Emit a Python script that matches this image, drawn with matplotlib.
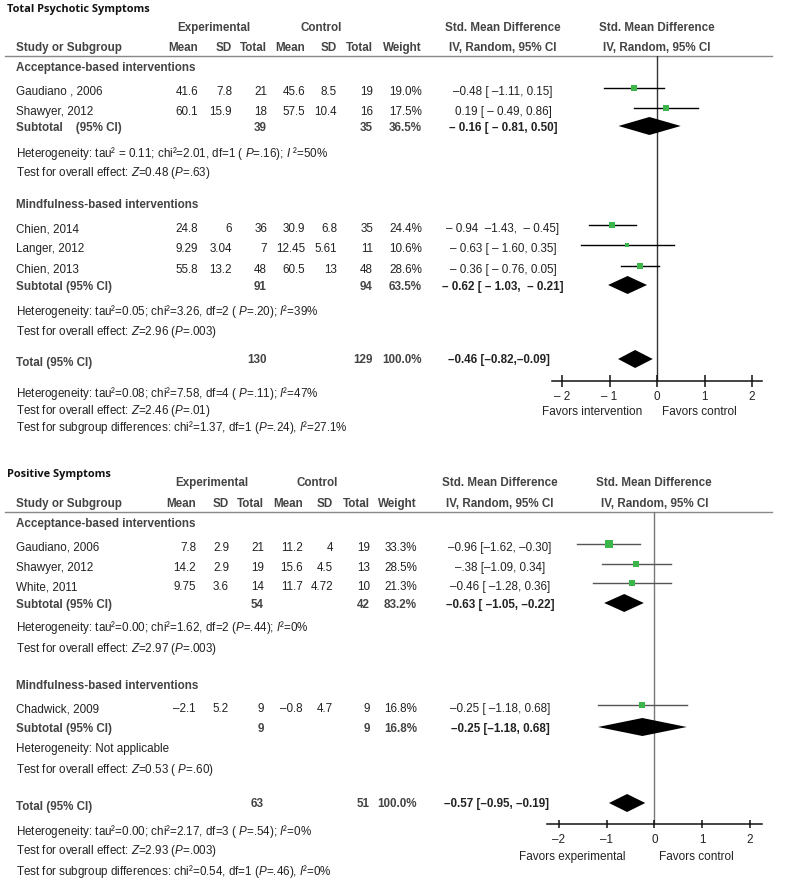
import matplotlib
matplotlib.use("Agg")
import matplotlib.pyplot as plt
from matplotlib.patches import Polygon

plt.rcParams['font.family'] = ['Liberation Sans', 'DejaVu Sans']
plt.rcParams['mathtext.fontset'] = 'custom'
plt.rcParams['mathtext.rm'] = 'Liberation Sans'
plt.rcParams['mathtext.it'] = 'Liberation Sans:italic'

W, H = 786, 881

# ---------------- data: Total Psychotic Symptoms ----------------
tot_groups = ["Acceptance-based interventions", "Mindfulness-based interventions"]
tot_studies = [["Gaudiano , 2006", "Shawyer, 2012"],
               ["Chien, 2014", "Langer, 2012", "Chien, 2013"]]
tot_exp_mean = [["41.6", "60.1"], ["24.8", "9.29", "55.8"]]
tot_exp_sd = [["7.8", "15.9"], ["6", "3.04", "13.2"]]
tot_exp_n = [["21", "18"], ["36", "7", "48"]]
tot_ctl_mean = [["45.6", "57.5"], ["30.9", "12.45", "60.5"]]
tot_ctl_sd = [["8.5", "10.4"], ["6.8", "5.61", "13"]]
tot_ctl_n = [["19", "16"], ["35", "11", "48"]]
tot_weight = [[19.0, 17.5], [24.4, 10.6, 28.6]]
tot_smd = [[-0.48, 0.19], [-0.94, -0.63, -0.36]]
tot_lo = [[-1.11, -0.49], [-1.43, -1.60, -0.76]]
tot_hi = [[0.15, 0.86], [-0.45, 0.35, 0.05]]
tot_ci_text = [["–0.48 [ –1.11, 0.15]", "0.19 [ – 0.49, 0.86]"],
               ["– 0.94  –1.43,  – 0.45]", "– 0.63 [ – 1.60, 0.35]", "– 0.36 [ – 0.76, 0.05]"]]
tot_sub_n = [("39", "35"), ("91", "94")]
tot_sub_w = ["36.5%", "63.5%"]
tot_sub_smd = [-0.16, -0.62]
tot_sub_lo = [-0.81, -1.03]
tot_sub_hi = [0.50, -0.21]
tot_sub_text = ["– 0.16 [ – 0.81, 0.50]", "– 0.62 [ – 1.03,  – 0.21]"]
tot_sub_label = ["Subtotal    (95% CI)", "Subtotal (95% CI)"]
tot_het = [r"Heterogeneity: tau² = 0.11; chi²=2.01, df=1 ( $P$=.16); $I$ ²=50%",
           r"Heterogeneity: tau²=0.05; chi²=3.26, df=2 ( $P$=.20); $I$²=39%"]
tot_eff = [r"Test for overall effect: $Z$=0.48 ($P$=.63)",
           r"Test for overall effect: $Z$=2.96 ($P$=.003)"]
tot_all = ("130", "129", "100.0%", -0.46, -0.82, -0.09, "–0.46 [–0.82,–0.09]")
tot_foot = [r"Heterogeneity: tau²=0.08; chi²=7.58, df=4 ( $P$=.11); $I$²=47%",
            r"Test for overall effect: $Z$=2.46 ($P$=.01)",
            r"Test for subgroup differences: chi²=1.37, df=1 ($P$=.24), $I$²=27.1%"]

# ---------------- data: Positive Symptoms ----------------
pos_groups = ["Acceptance-based interventions", "Mindfulness-based interventions"]
pos_studies = [["Gaudiano, 2006", "Shawyer, 2012", "White, 2011"], ["Chadwick, 2009"]]
pos_exp_mean = [["7.8", "14.2", "9.75"], ["–2.1"]]
pos_exp_sd = [["2.9", "2.9", "3.6"], ["5.2"]]
pos_exp_n = [["21", "19", "14"], ["9"]]
pos_ctl_mean = [["11.2", "15.6", "11.7"], ["–0.8"]]
pos_ctl_sd = [["4", "4.5", "4.72"], ["4.7"]]
pos_ctl_n = [["19", "13", "10"], ["9"]]
pos_weight = [[33.3, 28.5, 21.3], [16.8]]
pos_smd = [[-0.96, -0.38, -0.46], [-0.25]]
pos_lo = [[-1.62, -1.09, -1.28], [-1.18]]
pos_hi = [[-0.30, 0.34, 0.36], [0.68]]
pos_ci_text = [["–0.96 [–1.62, –0.30]", "–.38 [–1.09, 0.34]", "–0.46 [ –1.28, 0.36]"],
               ["–0.25 [ –1.18, 0.68]"]]
pos_sub_n = [("54", "42"), ("9", "9")]
pos_sub_w = ["83.2%", "16.8%"]
pos_sub_smd = [-0.63, -0.25]
pos_sub_lo = [-1.05, -1.18]
pos_sub_hi = [-0.22, 0.68]
pos_sub_text = ["–0.63 [ –1.05, –0.22]", "–0.25 [–1.18, 0.68]"]
pos_sub_label = ["Subtotal (95% CI)", "Subtotal (95% CI)"]
pos_het = [r"Heterogeneity: tau²=0.00; chi²=1.62, df=2 ($P$=.44); $I$²=0%",
           "Heterogeneity: Not applicable"]
pos_eff = [r"Test for overall effect: $Z$=2.97 ($P$=.003)",
           r"Test for overall effect: $Z$=0.53 ( $P$=.60)"]
pos_all = ("63", "51", "100.0%", -0.57, -0.95, -0.19, "–0.57 [–0.95, –0.19]")
pos_foot = [r"Heterogeneity: tau²=0.00; chi²=2.17, df=3 ( $P$=.54); $I$²=0%",
            r"Test for overall effect: $Z$=2.93 ($P$=.003)",
            r"Test for subgroup differences: chi²=0.54, df=1 ($P$=.46), $I$²=0%"]

GREEN = "#3cb54a"
TXT = "#222222"
HEAD = "#444444"
FS = 8.4

fig = plt.figure(figsize=(W / 100, H / 100), dpi=100)
bg = fig.add_axes([0, 0, 1, 1])
bg.set_xlim(0, W)
bg.set_ylim(H, 0)
bg.axis("off")


def t(x, y, s, ha="left", bold=False, color=TXT, size=FS, **kw):
    bg.text(x, y, s, ha=ha, va="center", fontsize=size, color=color,
            fontweight="bold" if bold else "normal", **kw)


def panel(cfg):
    (title, title_y, grp_y, y_head1, y_head2, line_y, cols, ci_x, hdr_x,
     rows, sub_y, het_y, eff_y, tot_y, foot_y, mark_dy,
     ax_x0, ax_x1, ax_y1, zero_px, unit_px, tick_labels, fav, fav_y, fav_x,
     line_col, zero_col, data) = cfg
    (groups, studies, em, esd, en, cm, csd, cn, wt, smd, lo, hi, cit,
     sub_n, sub_w, sub_smd, sub_lo, sub_hi, sub_text, sub_label, het, eff,
     allrow, foot, tick_len, tick_pad) = data
    c_en, c_cn, c_w = cols[2], cols[5], cols[6]

    bg.text(7, title_y, title, ha="left", va="center", fontsize=7.9,
            fontweight="bold", family=["Open Sans", "DejaVu Sans"], color="#111111")
    t(hdr_x[0], y_head1, "Experimental", ha="center", bold=True, color=HEAD)
    t(hdr_x[1], y_head1, "Control", ha="center", bold=True, color=HEAD)
    t(ci_x, y_head1, "Std. Mean Difference", ha="center", bold=True, color=HEAD)
    t(zero_px, y_head1, "Std. Mean Difference", ha="center", bold=True, color=HEAD)
    t(16, y_head2, "Study or Subgroup", bold=True, color=HEAD)
    for x, s in zip(cols, ["Mean", "SD", "Total", "Mean", "SD", "Total", "Weight"]):
        t(x, y_head2, s, ha="right", bold=True, color=HEAD)
    t(ci_x, y_head2, "IV, Random, 95% CI", ha="center", bold=True, color=HEAD)
    t(zero_px, y_head2, "IV, Random, 95% CI", ha="center", bold=True, color=HEAD)
    bg.plot([5, 772], [line_y, line_y], color="#888888", lw=1.0)

    # forest axes in pixel rows
    ax = fig.add_axes([ax_x0 / W, 1 - ax_y1 / H, (ax_x1 - ax_x0) / W, (ax_y1 - line_y) / H])
    ax.set_xlim((ax_x0 - zero_px) / unit_px, (ax_x1 - zero_px) / unit_px)
    ax.set_ylim(ax_y1, line_y)
    ax.patch.set_alpha(0)
    for sp in ["top", "left", "right"]:
        ax.spines[sp].set_visible(False)
    ax.spines["bottom"].set_color("#111111")
    ax.spines["bottom"].set_linewidth(1.1)
    ax.set_yticks([])
    ax.set_xticks([-2, -1, 0, 1, 2])
    ax.set_xticklabels(tick_labels, fontsize=8.4, color=TXT)
    ax.tick_params(axis="x", direction="inout", length=tick_len, width=1.1,
                   pad=tick_pad, color="#111111")
    ax.axvline(0, color=zero_col, lw=1.0, zorder=1)

    def diamond(est, l, h, y):
        ax.add_patch(Polygon([(l, y), (est, y - 9), (h, y), (est, y + 9)],
                             closed=True, color="black", lw=0, zorder=3))

    for g in range(2):
        t(16, grp_y[g], groups[g], bold=True, color=HEAD)
        for i, name in enumerate(studies[g]):
            y = rows[g][i]
            t(16, y, name)
            for x, v in zip(cols[:6], [em[g][i], esd[g][i], en[g][i], cm[g][i], csd[g][i], cn[g][i]]):
                t(x, y, v, ha="right")
            t(c_w, y, f"{wt[g][i]:.1f}%", ha="right")
            t(ci_x, y, cit[g][i], ha="center")
            ym = y - mark_dy
            ax.plot([lo[g][i], hi[g][i]], [ym, ym], color=line_col, lw=1.0, zorder=2)
            side = 1.3 * wt[g][i] ** 0.5 * 0.72
            ax.scatter([smd[g][i]], [ym], marker="s", s=side ** 2, color=GREEN,
                       linewidths=0, zorder=4)
        y = sub_y[g]
        t(16, y, sub_label[g], bold=True, color=HEAD)
        t(c_en, y, sub_n[g][0], ha="right", bold=True, color=HEAD)
        t(c_cn, y, sub_n[g][1], ha="right", bold=True, color=HEAD)
        t(c_w, y, sub_w[g], ha="right", bold=True, color=HEAD)
        t(ci_x, y, sub_text[g], ha="center", bold=True, color=TXT)
        diamond(sub_smd[g], sub_lo[g], sub_hi[g], y - 2)
        t(16, het_y[g], het[g])
        t(16, eff_y[g], eff[g])

    n1, n2, w, est, l, h, txt = allrow
    t(16, tot_y, "Total (95% CI)", bold=True, color=HEAD)
    t(c_en, tot_y - 3, n1, ha="right", bold=True, color=HEAD)
    t(c_cn, tot_y - 3, n2, ha="right", bold=True, color=HEAD)
    t(c_w, tot_y - 3, w, ha="right", bold=True, color=HEAD)
    t(ci_x - 4, tot_y - 3, txt, ha="center", bold=True, color=TXT)
    diamond(est, l, h, tot_y - 4)
    for y, s in zip(foot_y, foot):
        t(16, y, s)
    t(fav_x[0], fav_y, fav[0], ha="center", size=8.5)
    t(fav_x[1], fav_y, fav[1], ha="center", size=8.5)


top_cfg = ("Total Psychotic Symptoms", 9.5, [68, 205], 28, 48, 56,
           [198, 232, 267, 305, 337, 373, 422], 503, [214, 321],
           [[92, 112], [229, 249, 270]], [128, 287], [153, 311], [173, 332],
           363, [394, 411, 428], 4,
           552, 762, 381, 657, 47.5, ["– 2", "– 1", "0", "1", "2"],
           ["Favors intervention", "Favors control"], 412, [592, 699],
           "black", "#333333",
           (tot_groups, tot_studies, tot_exp_mean, tot_exp_sd, tot_exp_n, tot_ctl_mean,
            tot_ctl_sd, tot_ctl_n, tot_weight, tot_smd, tot_lo, tot_hi, tot_ci_text,
            tot_sub_n, tot_sub_w, tot_sub_smd, tot_sub_lo, tot_sub_hi, tot_sub_text,
            tot_sub_label, tot_het, tot_eff, tot_all, tot_foot, 8, 3.0))

pos_cfg = ("Positive Symptoms", 474, [524, 686], 483, 504, 512,
           [196, 229, 264, 303, 333, 370, 417], 500, [212, 317],
           [[548, 568, 587], [709]], [605, 729], [628, 749], [649, 770],
           807, [831, 851, 871], 4,
           547, 762, 824, 654.3, 47.7, ["–2", "–1", "0", "1", "2"],
           ["Favors experimental", "Favors control"], 857, [572, 696],
           "#555555", "#777777",
           (pos_groups, pos_studies, pos_exp_mean, pos_exp_sd, pos_exp_n, pos_ctl_mean,
            pos_ctl_sd, pos_ctl_n, pos_weight, pos_smd, pos_lo, pos_hi, pos_ci_text,
            pos_sub_n, pos_sub_w, pos_sub_smd, pos_sub_lo, pos_sub_hi, pos_sub_text,
            pos_sub_label, pos_het, pos_eff, pos_all, pos_foot, 6, 4.5))

panel(top_cfg)
panel(pos_cfg)

fig.savefig("out.png", dpi=100)
